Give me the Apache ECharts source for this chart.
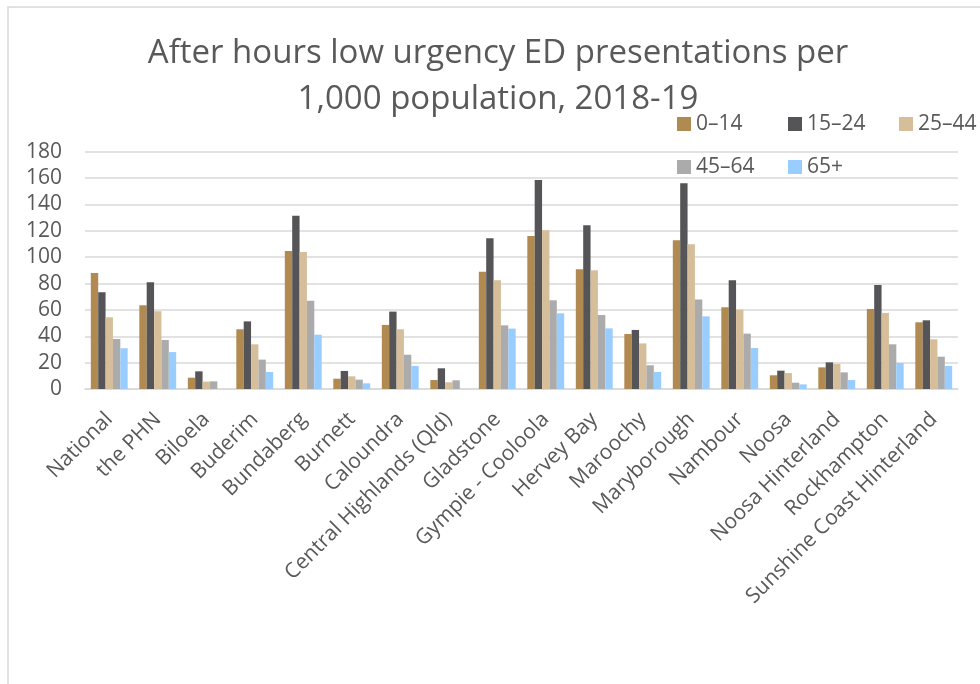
<!DOCTYPE html>
<html>
<head>
<meta charset="utf-8">
<script src="https://cdn.jsdelivr.net/npm/echarts@6/dist/echarts.min.js"></script>
<style>
html,body{margin:0;padding:0;background:#fff;}
#chart{width:980px;height:684px;}
</style>
</head>
<body>
<div id="chart"></div>
<script>
const categories = ["National","the PHN","Biloela","Buderim","Bundaberg","Burnett","Caloundra","Central Highlands (Qld)","Gladstone","Gympie - Cooloola","Hervey Bay","Maroochy","Maryborough","Nambour","Noosa","Noosa Hinterland","Rockhampton","Sunshine Coast Hinterland"];
const seriesNames = ["0–14","15–24","25–44","45–64","65+"];
const age0_14  = [88, 63.5, 8.6, 45.3, 104.7, 7.8, 48.6, 6.8, 89, 116, 90.8, 41.7, 112.8, 62, 10.4, 16.4, 60.7, 50.6];
const age15_24 = [73.4, 81, 13.4, 51.3, 131.5, 13.7, 58.7, 15.7, 114.3, 158.6, 124.2, 44.8, 156, 82.5, 13.9, 20.2, 78.9, 52.1];
const age25_44 = [54.4, 59, 5.6, 33.9, 104, 9.6, 45.3, 5.1, 82.5, 120.4, 90, 34.6, 109.8, 60.2, 12.1, 19, 57.7, 37.7];
const age45_64 = [37.9, 37.2, 5.8, 22.3, 67, 7.1, 26, 6.6, 48.3, 67.3, 56.1, 18, 67.8, 42, 4.8, 12.6, 33.9, 24.5];
const age65p   = [30.9, 28, 0, 12.9, 41.2, 4.3, 17.5, 0, 45.8, 57.4, 46, 12.9, 55.1, 31.1, 3.5, 6.8, 19.7, 17.5];
const yTicks = [0,20,40,60,80,100,120,140,160,180];

const colors = ["#B08A50","#555557","#D6BE9B","#ABABAB","#99CCFF"];
const allData = [age0_14, age15_24, age25_44, age45_64, age65p];
const FONT = "Open Sans";
const TXT = "#595959";

const chart = echarts.init(document.getElementById('chart'), null, {renderer:'canvas'});
const legendBase = {
  orient:'horizontal', itemWidth:14, itemHeight:14, itemGap:0, icon:'rect', width:500,
  textStyle:{color:TXT, fontFamily:FONT, fontSize:21, width:92, lineHeight:22, padding:[0,0,0,0]},
  itemStyle:{borderWidth:0}
};
chart.setOption({
  backgroundColor:'#fff',
  animation:false,
  color: colors,
  graphic:[{type:'rect', silent:true, shape:{x:8, y:7, width:1100, height:1000}, style:{fill:'none', stroke:'#D9D9D9', lineWidth:1.5}}],
  title:{
    text:'After hours low urgency ED presentations per\n1,000 population, 2018-19',
    left:493, top:26, textAlign:'center',
    textStyle:{color:TXT, fontFamily:FONT, fontSize:33, fontWeight:'normal', lineHeight:46}
  },
  legend:[
    Object.assign({}, legendBase, {left:672, top:108, data:seriesNames.slice(0,3)}),
    Object.assign({}, legendBase, {left:672, top:151, data:seriesNames.slice(3)})
  ],
  grid:{left:85, right:22, top:151.7, bottom:295, containLabel:false},
  xAxis:{
    type:'category', data:categories,
    axisTick:{show:false},
    axisLine:{lineStyle:{color:'#D9D9D9', width:1.5}},
    axisLabel:{rotate:45, interval:0, margin:27, color:TXT, fontFamily:FONT, fontSize:21}
  },
  yAxis:{
    type:'value', min:0, max:180, interval:20,
    axisLine:{show:false}, axisTick:{show:false},
    splitLine:{lineStyle:{color:'#D9D9D9', width:1.5}},
    axisLabel:{margin:23, color:TXT, fontFamily:FONT, fontSize:21,
      formatter: v => yTicks.includes(v) ? String(v) : ''}
  },
  series: seriesNames.map((n,i)=>({
    name:n, type:'bar', data:allData[i], barGap:'0%', barCategoryGap:'24%',
    itemStyle:{color:colors[i]}
  }))
});
</script>
</body>
</html>
